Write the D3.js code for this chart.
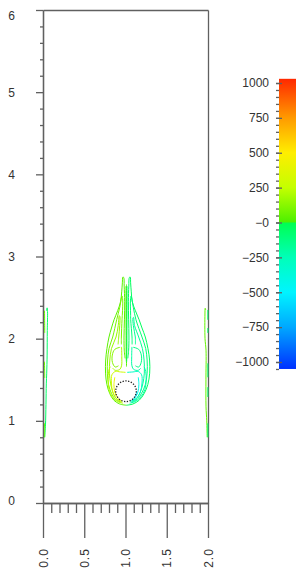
<html>
<head>
<script src="https://d3js.org/d3.v7.min.js"></script>
<style>
body { margin: 0; background: #fff; }
svg { display: block; font-family: "Liberation Sans", Arial, sans-serif; }
.axis path, .axis line { stroke: #606060; stroke-width: 1.3; }
.axis text { fill: #333; font-size: 12px; }
.contour { fill: none; stroke-width: 1; }
</style>
</head>
<body>
<svg id="chart" width="296" height="572"></svg>
<script>
// axis ticks
var xTicks = [0, 0.5, 1, 1.5, 2];
var xTickLabels = ["0.0", "0.5", "1.0", "1.5", "2.0"];
var yTicks = [0, 1, 2, 3, 4, 5, 6];
var yTickLabels = ["0", "1", "2", "3", "4", "5", "6"];

// colour bar
var cbTicks = [1000, 750, 500, 250, 0, -250, -500, -750, -1000];
var cbTickLabels = ["1000", "750", "500", "250", "\u22120", "\u2212250", "\u2212500", "\u2212750", "\u22121000"];
var cbStops = [1030, 750, 500, 250, 0.01, -0.01, -250, -500, -750, -1050];
var cbColors = ["#ff2800", "#ff9a00", "#ffee00", "#c4ff00", "#4cf000", "#00ff50", "#00ffb8", "#00f4ff", "#00a8ff", "#0030ff"];

// cylinder
var cylinder = {x: 1.006, y: 1.36, r: 0.125};

// contour lines (x, y) with the level value
var shearL1 = [[1.01,1.19],[0.93,1.205],[0.86,1.25],[0.81,1.33],[0.775,1.44],[0.758,1.58],[0.76,1.74],[0.775,1.88],[0.80,2.02],[0.83,2.13],[0.861,2.23],[0.905,2.34],[0.94,2.45],[0.954,2.57],[0.962,2.68],[0.968,2.75],[0.978,2.745],[0.984,2.64],[0.99,2.45],[0.987,2.23],[0.982,2.02],[0.985,1.86],[0.995,1.76]];
var shearL2 = [[0.95,1.225],[0.88,1.26],[0.83,1.335],[0.795,1.44],[0.78,1.58],[0.783,1.74],[0.80,1.88],[0.845,2.02],[0.893,2.23],[0.93,2.38],[0.948,2.48],[0.958,2.52],[0.966,2.47],[0.962,2.30],[0.958,2.23],[0.95,2.02],[0.95,1.93]];
var shearL3 = [[0.94,1.24],[0.89,1.27],[0.85,1.34],[0.82,1.45],[0.805,1.58],[0.81,1.74],[0.83,1.88],[0.885,2.02],[0.912,2.16],[0.925,2.28],[0.932,2.27],[0.93,2.16],[0.918,2.02],[0.91,1.93]];
var shearR1 = [[1.01,1.19],[1.09,1.205],[1.165,1.25],[1.225,1.33],[1.27,1.44],[1.293,1.58],[1.292,1.74],[1.272,1.88],[1.24,2.02],[1.20,2.13],[1.165,2.23],[1.12,2.34],[1.082,2.45],[1.07,2.57],[1.062,2.68],[1.057,2.75],[1.047,2.745],[1.04,2.64],[1.035,2.45],[1.038,2.23],[1.042,2.02],[1.038,1.86],[1.028,1.76]];
var shearR2 = [[1.07,1.225],[1.14,1.26],[1.195,1.335],[1.24,1.44],[1.262,1.58],[1.262,1.74],[1.245,1.88],[1.20,2.02],[1.127,2.23],[1.095,2.38],[1.078,2.48],[1.068,2.52],[1.06,2.47],[1.062,2.30],[1.063,2.23],[1.079,2.02],[1.08,1.93]];
var shearR3 = [[1.08,1.24],[1.13,1.27],[1.175,1.34],[1.21,1.45],[1.228,1.58],[1.225,1.74],[1.205,1.88],[1.16,2.02],[1.11,2.16],[1.097,2.26],[1.09,2.25],[1.095,2.16],[1.119,2.02],[1.12,1.93]];
var stemL = [[1.006,2.64],[1.006,2.4],[1.007,2.1],[1.008,1.85],[1.01,1.72]];
var stemC = [[1.012,2.66],[1.012,2.2],[1.012,1.66]];
var stemR = [[1.018,2.64],[1.018,2.4],[1.017,2.1],[1.016,1.85],[1.014,1.72]];
var vortexLC = [[0.935,1.895],[0.87,1.87],[0.84,1.80],[0.842,1.71],[0.875,1.655],[0.915,1.67]];
var vortexLI = [[0.952,1.90],[0.955,1.78],[0.952,1.67],[0.93,1.625],[0.875,1.615],[0.845,1.64]];
var vortexRC = [[1.095,1.895],[1.16,1.87],[1.192,1.80],[1.19,1.71],[1.16,1.655],[1.12,1.67]];
var vortexRI = [[1.078,1.90],[1.075,1.78],[1.078,1.67],[1.10,1.625],[1.155,1.615],[1.185,1.64]];
var wrapL1 = [[0.96,1.235],[0.89,1.27],[0.845,1.35],[0.83,1.46],[0.835,1.56],[0.875,1.60],[0.94,1.595],[1.0,1.59]];
var wrapL2 = [[0.95,1.245],[0.905,1.28],[0.87,1.35],[0.86,1.44],[0.87,1.53]];
var wrapL3 = [[0.93,1.262],[0.90,1.30],[0.885,1.36]];
var wrapL4 = [[0.97,1.215],[0.90,1.235],[0.84,1.29],[0.80,1.38],[0.79,1.50],[0.795,1.60],[0.815,1.66]];
var wrapR1 = [[1.06,1.235],[1.13,1.27],[1.18,1.35],[1.20,1.46],[1.195,1.56],[1.155,1.60],[1.09,1.595],[1.02,1.59]];
var wrapR2 = [[1.07,1.245],[1.115,1.28],[1.15,1.35],[1.162,1.44],[1.155,1.53]];
var wrapR3 = [[1.09,1.262],[1.12,1.30],[1.135,1.36]];
var wrapR4 = [[1.05,1.215],[1.12,1.235],[1.185,1.29],[1.235,1.38],[1.25,1.50],[1.245,1.60],[1.225,1.66]];
var wallL1 = [[0.02,0.80],[0.03,0.95],[0.036,1.2],[0.04,1.45],[0.045,1.58],[0.05,1.8],[0.052,2.1],[0.055,2.33],[0.05,2.375],[0.042,2.34]];
var wallL2 = [[0.018,2.34],[0.02,2.2],[0.021,2.07]];
var wallL3 = [[0.018,1.72],[0.02,1.6],[0.021,1.52]];
var wallL4 = [[0.018,0.97],[0.02,0.88],[0.02,0.80]];
var wallR1 = [[1.99,0.80],[1.985,1.0],[1.976,1.17],[1.975,1.5],[1.976,1.86],[1.964,2.0],[1.963,2.3],[1.966,2.37],[1.972,2.35]];
var wallR2 = [[1.998,2.35],[1.998,2.23]];
var wallR3 = [[1.998,2.13],[1.998,2.07]];
var wallR4 = [[1.998,1.70],[1.998,1.53]];
var wallR5 = [[1.998,1.41],[1.998,1.29]];
var wallR6 = [[1.998,0.97],[1.998,0.80]];

var contours = [
  {v: 30, pts: shearL1}, {v: 90, pts: shearL2}, {v: 160, pts: shearL3},
  {v: -30, pts: shearR1}, {v: -90, pts: shearR2}, {v: -160, pts: shearR3},
  {v: 120, pts: vortexLC}, {v: 200, pts: vortexLI},
  {v: -120, pts: vortexRC}, {v: -200, pts: vortexRI},
  {v: 230, pts: wrapL4}, {v: 300, pts: wrapL1}, {v: 420, pts: wrapL2}, {v: 600, pts: wrapL3},
  {v: -230, pts: wrapR4}, {v: -300, pts: wrapR1}, {v: -420, pts: wrapR2}, {v: -600, pts: wrapR3},
  {v: 40, pts: stemL}, {v: 10, pts: stemC}, {v: -40, pts: stemR},
  {v: -50, pts: wallL1}, {v: 60, pts: wallL2}, {v: 60, pts: wallL3}, {v: 60, pts: wallL4},
  {v: 50, pts: wallR1}, {v: -60, pts: wallR2}, {v: -60, pts: wallR3}, {v: -60, pts: wallR4},
  {v: -60, pts: wallR5}, {v: -60, pts: wallR6}
];

var chart = d3.select("#chart");
var x = d3.scaleLinear().domain([0, 2]).range([43, 208]);
var y = d3.scaleLinear().domain([0, 6]).range([503, 10]);
var color = d3.scaleLinear().domain(cbStops).range(cbColors);

// frame and axes
var yMinor = d3.range(0, 6.01, 0.2).filter(function(d){ return Math.abs(d - Math.round(d)) > 0.01; });
var xMinor = d3.range(0, 2.01, 0.1).filter(function(d){ return Math.abs(d * 2 - Math.round(d * 2)) > 0.01; });

chart.append("g").attr("class", "axis").attr("transform", "translate(43,0)")
  .call(d3.axisLeft(y).tickValues(yMinor).tickSize(3).tickSizeOuter(0).tickFormat(""));
var yAx = chart.append("g").attr("class", "axis").attr("transform", "translate(43,0)")
  .call(d3.axisLeft(y).tickValues(yTicks).tickSize(7).tickSizeOuter(0).tickPadding(21)
    .tickFormat(function(d, i){ return yTickLabels[i]; }));
yAx.selectAll("text").attr("dy", function(d){ return d === 6 ? "0.75em" : (d === 0 ? "0.1em" : "0.32em"); });

chart.append("g").attr("class", "axis").attr("transform", "translate(0,503)")
  .call(d3.axisBottom(x).tickValues(xMinor).tickSize(10).tickSizeOuter(0).tickFormat(""));
var xAx = chart.append("g").attr("class", "axis").attr("transform", "translate(0,503)")
  .call(d3.axisBottom(x).tickValues(xTicks).tickSize(35).tickSizeOuter(0).tickFormat(""));
xAx.selectAll(".tick").append("text")
  .attr("transform", "translate(0,55) rotate(-90)")
  .attr("text-anchor", "middle")
  .attr("dy", "0.35em")
  .attr("fill", "#333")
  .style("letter-spacing", "1px")
  .text(function(d, i){ return xTickLabels[i]; });

chart.append("g").attr("class", "axis").attr("transform", "translate(0,10)")
  .call(d3.axisTop(x).tickValues([]).tickSizeOuter(0));
chart.append("g").attr("class", "axis").attr("transform", "translate(208,0)")
  .call(d3.axisRight(y).tickValues([]).tickSizeOuter(0));

// contours
var line = d3.line()
  .x(function(d){ return x(d[0]); })
  .y(function(d){ return y(d[1]); })
  .curve(d3.curveCatmullRom);

chart.append("g").selectAll("path").data(contours).enter().append("path")
  .attr("class", "contour")
  .attr("stroke", function(d){ return color(d.v); })
  .attr("d", function(d){ return line(d.pts); });

chart.append("circle")
  .attr("cx", x(cylinder.x))
  .attr("cy", y(cylinder.y))
  .attr("r", x(cylinder.x + cylinder.r) - x(cylinder.x))
  .attr("fill", "#fff")
  .attr("stroke", "#222")
  .attr("stroke-width", 1.3)
  .attr("stroke-dasharray", "1.3,1.5");

// colour bar
var cy = d3.scaleLinear().domain([-1000, 1000]).range([362, 83]);
var grad = chart.append("defs").append("linearGradient")
  .attr("id", "cbar").attr("x1", 0).attr("y1", 0).attr("x2", 0).attr("y2", 1);
var cbTop = cy(cbStops[0]), cbBottom = cy(cbStops[cbStops.length - 1]);
grad.selectAll("stop").data(cbStops).enter().append("stop")
  .attr("offset", function(d){ return (cy(d) - cbTop) / (cbBottom - cbTop); })
  .attr("stop-color", function(d, i){ return cbColors[i]; });
chart.append("rect")
  .attr("x", 279).attr("y", cbTop)
  .attr("width", 17).attr("height", cbBottom - cbTop)
  .attr("fill", "url(#cbar)");

var cbMinor = d3.range(-1050, 1001, 50);
chart.append("g").attr("class", "axis").attr("transform", "translate(279,0)")
  .call(d3.axisLeft(cy).tickValues(cbMinor).tickSize(3).tickFormat(""))
  .select(".domain").remove();
chart.append("g").attr("class", "axis").attr("transform", "translate(282,0)")
  .call(d3.axisLeft(cy).tickValues(cbTicks).tickSize(6).tickPadding(7)
    .tickFormat(function(d, i){ return cbTickLabels[i]; }))
  .select(".domain").remove();
</script>
</body>
</html>
